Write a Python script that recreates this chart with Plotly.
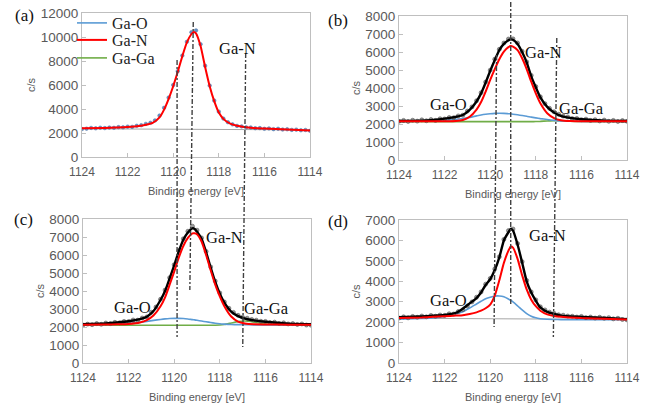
import plotly.graph_objects as go

W, H = 649, 410

# ---------------- data ----------------
# energy grid of the fitted curves (eV)
E_fit = [1124, 1123, 1122.5, 1122, 1121.5, 1121.2, 1120.9, 1120.6, 1120.4, 1120.2,
         1120.0, 1119.8, 1119.6, 1119.4, 1119.2, 1119.1, 1119.0, 1118.8, 1118.6, 1118.4,
         1118.2, 1118.0, 1117.8, 1117.5, 1117.2, 1116.9, 1116.5, 1116, 1115, 1114]

# energy grid of the measured points (eV)
E_raw = [1124.0, 1123.8, 1123.6, 1123.4, 1123.2, 1123.0, 1122.8, 1122.6, 1122.4, 1122.2,
         1122.0, 1121.8, 1121.6, 1121.4, 1121.2, 1121.0, 1120.8, 1120.6, 1120.4, 1120.2,
         1120.0, 1119.8, 1119.6, 1119.4, 1119.2, 1119.0, 1118.8, 1118.6, 1118.4, 1118.2,
         1118.0, 1117.8, 1117.6, 1117.4, 1117.2, 1117.0, 1116.8, 1116.6, 1116.4, 1116.2,
         1116.0, 1115.8, 1115.6, 1115.4, 1115.2, 1115.0, 1114.8, 1114.6, 1114.4, 1114.2,
         1114.0]

# (a)
a_raw = [2330, 2360, 2420, 2390, 2440, 2410, 2450, 2430, 2490, 2470,
         2530, 2510, 2600, 2650, 2760, 2850, 3050, 3450, 4100, 4950,
         6000, 7150, 8450, 9600, 10400, 10550, 9400, 7600, 5950, 4700,
         3780, 3200, 2900, 2720, 2590, 2550, 2470, 2460, 2400, 2410,
         2350, 2380, 2320, 2350, 2290, 2310, 2260, 2280, 2230, 2250, 2180]
a_GaN = [2390, 2420, 2455, 2500, 2580, 2680, 2840, 3300, 3950, 4850,
         5900, 7100, 8400, 9550, 10250, 10420, 10300, 9250, 7500, 5900,
         4650, 3700, 3180, 2780, 2600, 2500, 2420, 2370, 2290, 2200]
a_bg_E = [1124, 1114]
a_bg = [2350, 2260]

# (b)
b_raw = [2150, 2200, 2140, 2210, 2160, 2230, 2180, 2250, 2200, 2290,
         2280, 2360, 2350, 2450, 2490, 2720, 2950, 3290, 3740, 4330,
         4990, 5600, 6150, 6500, 6720, 6730, 6500, 6040, 5450, 4700,
         4080, 3510, 3130, 2870, 2680, 2540, 2440, 2390, 2300, 2310,
         2240, 2270, 2200, 2240, 2170, 2220, 2150, 2200, 2140, 2190, 2150]
b_env = [2170, 2190, 2230, 2300, 2400, 2500, 2780, 3250, 3700, 4300,
         4950, 5550, 6110, 6450, 6650, 6700, 6680, 6450, 6000, 5420,
         4650, 4040, 3480, 2950, 2640, 2450, 2340, 2260, 2190, 2170]
b_GaN = [2150, 2150, 2150, 2155, 2170, 2220, 2400, 2800, 3220, 3800,
         4450, 5050, 5600, 6020, 6270, 6330, 6300, 6100, 5650, 5050,
         4350, 3700, 3150, 2600, 2330, 2210, 2160, 2150, 2150, 2150]
b_GaO = [2140, 2150, 2160, 2200, 2260, 2310, 2370, 2450, 2500, 2540,
         2570, 2590, 2595, 2590, 2570, 2560, 2545, 2510, 2470, 2430,
         2380, 2340, 2300, 2250, 2200, 2175, 2155, 2145, 2140, 2140]
b_GaGa = [2130, 2130, 2130, 2130, 2130, 2130, 2130, 2130, 2130, 2130,
          2130, 2130, 2130, 2130, 2130, 2130, 2130, 2130, 2130, 2130,
          2130, 2135, 2145, 2170, 2190, 2180, 2150, 2135, 2130, 2130]

# (c)
c_raw = [2110, 2160, 2130, 2190, 2150, 2220, 2190, 2260, 2230, 2310,
         2300, 2390, 2380, 2500, 2560, 2820, 3110, 3540, 4050, 4740,
         5460, 6250, 6900, 7320, 7600, 7380, 6950, 6200, 5340, 4550,
         3890, 3390, 3040, 2810, 2650, 2540, 2490, 2420, 2380, 2320,
         2310, 2250, 2270, 2200, 2230, 2170, 2190, 2140, 2170, 2110, 2100]
c_env = [2150, 2200, 2250, 2320, 2440, 2570, 2900, 3500, 4000, 4700,
         5420, 6200, 6850, 7250, 7480, 7450, 7300, 6900, 6150, 5300,
         4500, 3850, 3350, 2850, 2600, 2470, 2370, 2290, 2190, 2150]
c_GaN = [2130, 2140, 2150, 2170, 2250, 2380, 2650, 3150, 3650, 4350,
         5080, 5850, 6500, 6950, 7200, 7210, 7150, 6750, 6000, 5150,
         4350, 3700, 3150, 2580, 2300, 2200, 2150, 2140, 2130, 2130]
c_GaO = [2130, 2140, 2160, 2200, 2260, 2310, 2370, 2420, 2450, 2470,
         2480, 2480, 2470, 2445, 2410, 2395, 2375, 2330, 2290, 2250,
         2210, 2180, 2160, 2140, 2130, 2125, 2120, 2120, 2115, 2110]
c_GaGa = [2100, 2100, 2100, 2100, 2100, 2100, 2100, 2100, 2100, 2100,
          2100, 2100, 2100, 2100, 2100, 2100, 2100, 2100, 2100, 2100,
          2100, 2110, 2140, 2220, 2300, 2330, 2270, 2170, 2110, 2100]

# (d)
d_raw = [2200, 2260, 2210, 2280, 2240, 2300, 2260, 2330, 2290, 2350,
         2330, 2410, 2400, 2520, 2610, 2790, 2990, 3220, 3480, 3860,
         4140, 4600, 5200, 6050, 6480, 6560, 5850, 4960, 4040, 3480,
         3090, 2750, 2600, 2490, 2430, 2360, 2340, 2300, 2290, 2250,
         2280, 2220, 2250, 2200, 2240, 2190, 2220, 2160, 2190, 2130, 2110]
d_env = [2240, 2280, 2310, 2350, 2460, 2660, 2920, 3180, 3450, 3820,
         4100, 4550, 5170, 6000, 6400, 6560, 6480, 5800, 4920, 4000,
         3450, 3050, 2720, 2500, 2400, 2320, 2280, 2250, 2210, 2150]
d_GaN = [2200, 2230, 2260, 2290, 2320, 2340, 2400, 2480, 2560, 2680,
         2860, 3300, 4050, 4900, 5500, 5700, 5650, 5100, 4300, 3600,
         3100, 2780, 2560, 2380, 2300, 2260, 2230, 2200, 2170, 2130]
d_GaO = [2150, 2180, 2200, 2280, 2400, 2510, 2690, 2890, 3020, 3140,
         3220, 3275, 3280, 3240, 3130, 3070, 2990, 2800, 2600, 2420,
         2290, 2210, 2170, 2140, 2130, 2125, 2120, 2120, 2120, 2120]
d_bg_E = [1124, 1114]
d_bg = [2190, 2130]

x_ticks = [1124, 1122, 1120, 1118, 1116, 1114]
y_ranges = [[0, 12000], [0, 8000], [0, 8000], [0, 7000]]
y_dticks = [2000, 1000, 1000, 1000]
panel_labels = ["(a)", "(b)", "(c)", "(d)"]

# reference dash-dot lines: (E at top, E at bottom)
ref_left = [(1119.83, 1119.83), (1119.12, 1119.27), (1116.82, 1116.95)]
ref_right = [(1119.72, 1119.83), (1119.10, 1119.10), (1117.08, 1117.23)]

# ---------------- style ----------------
BLUE, RED, GREEN, BLACK, GRAY = "#5b9bd5", "#ff0000", "#70ad47", "#000000", "#a6a6a6"
SERIF = "Liberation Serif, Times New Roman, serif"
SANS = "Liberation Sans, Arial, sans-serif"


def px_x(p):
    return p / W


def px_y(p):
    return 1 - p / H


fig = go.Figure()


def raw_trace(E, v, ax, color, size=4, edge="#404040"):
    fig.add_trace(go.Scatter(x=E, y=v, xaxis=ax[0], yaxis=ax[1], mode="markers",
                             marker=dict(size=size, color=color, opacity=0.85,
                                         line=dict(width=0.6, color=edge)),
                             showlegend=False, hoverinfo="skip"))


def fit_trace(E, v, ax, color, width, name=None, legend=None):
    fig.add_trace(go.Scatter(x=E, y=v, xaxis=ax[0], yaxis=ax[1], mode="lines",
                             line=dict(color=color, width=width, shape="spline", smoothing=0.6),
                             name=name, showlegend=legend is not None,
                             legend=legend if legend else "legend"))


axA, axB, axC, axD = ("x", "y"), ("x2", "y2"), ("x3", "y3"), ("x4", "y4")

# (a)
fit_trace(a_bg_E, a_bg, axA, GRAY, 1)
raw_trace(E_raw, a_raw, axA, "#4a7ebb", 3.5, "#3a66a0")
fit_trace(E_fit, a_GaN, axA, RED, 2)

# (b)
fit_trace(E_fit, b_GaGa, axB, GREEN, 1.6, "Ga-Ga", "legend3")
fit_trace(E_fit, b_GaO, axB, BLUE, 1.6, "Ga-O", "legend")
raw_trace(E_raw, b_raw, axB, "#8c8c8c")
fit_trace(E_fit, b_env, axB, BLACK, 2.4)
fit_trace(E_fit, b_GaN, axB, RED, 2, "Ga-N", "legend2")

# (c)
fit_trace(E_fit, c_GaGa, axC, GREEN, 1.6)
fit_trace(E_fit, c_GaO, axC, BLUE, 1.6)
raw_trace(E_raw, c_raw, axC, "#8c8c8c")
fit_trace(E_fit, c_env, axC, BLACK, 2.4)
fit_trace(E_fit, c_GaN, axC, RED, 2)

# (d)
fit_trace(d_bg_E, d_bg, axD, GRAY, 1)
fit_trace(E_fit, d_GaO, axD, BLUE, 1.6)
raw_trace(E_raw, d_raw, axD, "#8c8c8c")
fit_trace(E_fit, d_env, axD, BLACK, 2.4)
fit_trace(E_fit, d_GaN, axD, RED, 2)

# ---------------- axes ----------------
x_doms = [[82, 310], [399, 627], [83, 311], [399, 627]]
y_doms = [[13, 157], [16, 160], [219, 363], [220, 363]]


def leg(ypix):
    return dict(x=px_x(72), y=px_y(ypix), xanchor="left", yanchor="middle",
                bgcolor="rgba(0,0,0,0)", font=dict(family=SERIF, size=16, color="#222"),
                itemwidth=30)


layout = dict(
    width=W, height=H, margin=dict(l=0, r=0, t=0, b=0, autoexpand=False),
    paper_bgcolor="white", plot_bgcolor="white",
    legend=leg(23), legend2=leg(40), legend3=leg(58),
)
for i in range(4):
    sfx = "" if i == 0 else str(i + 1)
    layout["xaxis" + sfx] = dict(
        domain=[px_x(x_doms[i][0]), px_x(x_doms[i][1])], anchor="y" + sfx,
        range=[1124, 1114], tickvals=x_ticks, showgrid=False, zeroline=False,
        automargin=False,
        showline=True, linecolor="#bfbfbf", linewidth=1, mirror=True,
        ticks="inside", ticklen=4, tickcolor="#bfbfbf", ticklabelstandoff=4,
        tickfont=dict(family=SANS, size=12, color="#595959"),
        title=dict(text="Binding energy [eV]", standoff=8,
                   font=dict(family=SANS, size=11, color="#595959")),
    )
    layout["yaxis" + sfx] = dict(
        domain=[px_y(y_doms[i][1]), px_y(y_doms[i][0])], anchor="x" + sfx,
        range=y_ranges[i], dtick=y_dticks[i], tickformat="d",
        showgrid=False, zeroline=False, automargin=False,
        showline=True, linecolor="#bfbfbf", linewidth=1, mirror=True,
        ticks="inside", ticklen=4, tickcolor="#bfbfbf",
        tickfont=dict(family=SANS, size=13.5, color="#595959"),
        title=dict(text="c/s", standoff=2,
                   font=dict(family=SANS, size=11, color="#595959")),
    )
fig.update_layout(**layout)

# ---------------- reference lines ----------------
shapes = []
left_y = [(60, 337), (22, 290), (53, 347)]
right_y = [(55, 327), (2, 305), (38, 337)]
for (e0, e1), (t, b) in zip(ref_left, left_y):
    shapes.append(dict(type="line", xref="x", yref="paper", x0=e0, x1=e1,
                       y0=px_y(t), y1=px_y(b),
                       line=dict(color="#404040", width=1.4, dash="5px,2px,2px,2px")))
for (e0, e1), (t, b) in zip(ref_right, right_y):
    shapes.append(dict(type="line", xref="x2", yref="paper", x0=e0, x1=e1,
                       y0=px_y(t), y1=px_y(b),
                       line=dict(color="#404040", width=1.4, dash="5px,2px,2px,2px")))
fig.update_layout(shapes=shapes)

# ---------------- text ----------------
ann = []
label_pos = [(24, 15), (338, 20), (23, 219), (338, 221)]
for lab, (x, y) in zip(panel_labels, label_pos):
    ann.append(dict(text=lab, x=px_x(x), y=px_y(y), xref="paper", yref="paper",
                    xanchor="center", yanchor="middle",
                    showarrow=False, font=dict(family=SERIF, size=17, color="#111")))
peak_labels = [("Ga-N", 237, 48), ("Ga-N", 543, 52), ("Ga-O", 448, 104), ("Ga-Ga", 581, 108),
               ("Ga-N", 224, 238), ("Ga-O", 132, 307), ("Ga-Ga", 266, 308),
               ("Ga-N", 547, 236), ("Ga-O", 448, 300)]
for t, x, y in peak_labels:
    ann.append(dict(text=t, x=px_x(x), y=px_y(y), xref="paper", yref="paper",
                    xanchor="center", yanchor="middle",
                    showarrow=False, font=dict(family=SERIF, size=16.5, color="#111")))
fig.update_layout(annotations=ann)

fig.write_html("out.html", config={"displayModeBar": False},
               post_script="document.body.style.margin='0';document.body.style.overflow='hidden';")
